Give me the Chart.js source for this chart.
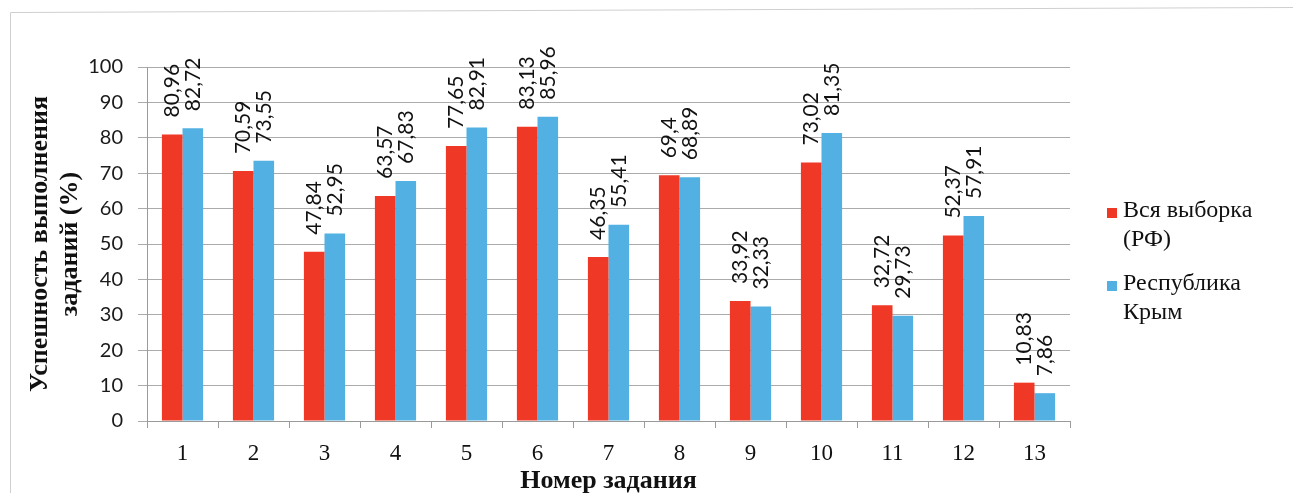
<!DOCTYPE html>
<html><head><meta charset="utf-8">
<script src="https://cdn.jsdelivr.net/npm/chart.js@4.4.0/dist/chart.umd.min.js"></script>
<style>html,body{margin:0;padding:0;background:#fff;}#wrap{width:1293px;height:493px;position:relative;}</style>
</head><body><div id="wrap"><canvas id="c" width="1293" height="493"></canvas></div>
<script>
const categories = ['1','2','3','4','5','6','7','8','9','10','11','12','13'];
const seriesRF = [80.96, 70.59, 47.84, 63.57, 77.65, 83.13, 46.35, 69.4, 33.92, 73.02, 32.72, 52.37, 10.83];
const seriesCrimea = [82.72, 73.55, 52.95, 67.83, 82.91, 85.96, 55.41, 68.89, 32.33, 81.35, 29.73, 57.91, 7.86];
const seriesNames = [['Вся выборка', '(РФ)'], ['Республика', 'Крым']];
const yTicks = [0, 10, 20, 30, 40, 50, 60, 70, 80, 90, 100];
const xTitle = 'Номер задания';
const yTitle = ['Успешность выполнения', 'заданий (%)'];

const RED = '#ef3825';
const BLUE = '#52b1e2';

const framePlugin = {
  id: 'frame',
  beforeDraw(chart) {
    const ctx = chart.ctx;
    ctx.save();
    ctx.strokeStyle = '#cfcfcf';
    ctx.lineWidth = 1;
    ctx.beginPath();
    ctx.moveTo(10.5, 493); ctx.lineTo(10.5, 12.5); ctx.lineTo(1293, 7.5);
    ctx.stroke();
    ctx.restore();
  }
};

const labelPlugin = {
  id: 'barLabels',
  afterDatasetsDraw(chart) {
    const ctx = chart.ctx;
    ctx.save();
    ctx.font = Chart.helpers.toFont({ family: 'Lato', size: 21 }).string;
    ctx.fillStyle = '#111';
    ctx.textAlign = 'left';
    ctx.textBaseline = 'middle';
    chart.data.datasets.forEach((ds, di) => {
      const meta = chart.getDatasetMeta(di);
      meta.data.forEach((bar, i) => {
        const txt = String(ds.data[i]).replace('.', ',');
        ctx.save();
        ctx.translate(bar.x, bar.y - 17);
        ctx.rotate(-Math.PI / 2);
        ctx.fillText(txt, 0, 0);
        ctx.restore();
      });
    });
    ctx.restore();
  }
};

const legendPlugin = {
  id: 'sideLegend',
  afterDraw(chart) {
    const ctx = chart.ctx;
    ctx.save();
    ctx.font = Chart.helpers.toFont({ family: 'Liberation Serif', size: 24 }).string;
    ctx.textAlign = 'left';
    ctx.textBaseline = 'alphabetic';
    const baseY = [217, 290];
    chart.data.datasets.forEach((ds, di) => {
      const lines = seriesNames[di];
      const y0 = baseY[di];
      ctx.fillStyle = ds.backgroundColor;
      ctx.fillRect(1107, y0 - 9, 10, 10);
      ctx.fillStyle = '#111';
      lines.forEach((ln, li) => ctx.fillText(ln, 1123, y0 + li * 29));
    });
    ctx.restore();
  }
};

new Chart(document.getElementById('c'), {
  type: 'bar',
  data: {
    labels: categories,
    datasets: [
      { label: seriesNames[0].join(' '), data: seriesRF, backgroundColor: RED, borderWidth: 0, categoryPercentage: 0.58, barPercentage: 1.0 },
      { label: seriesNames[1].join(' '), data: seriesCrimea, backgroundColor: BLUE, borderWidth: 0, categoryPercentage: 0.58, barPercentage: 1.0 }
    ]
  },
  options: {
    responsive: false,
    animation: false,
    devicePixelRatio: 1,
    layout: { padding: { top: 67, right: 223, left: 0, bottom: 0 } },
    plugins: { legend: { display: false }, tooltip: { enabled: false } },
    scales: {
      x: {
        grid: { display: true, drawOnChartArea: false, drawTicks: true, tickLength: 7, color: '#9a9a9a', offset: true },
        border: { display: true, color: '#9a9a9a' },
        ticks: { font: { family: 'Liberation Serif', size: 23 }, color: '#111', padding: 12, maxRotation: 0 },
        title: { display: true, text: xTitle, font: { family: 'Liberation Serif', size: 26, weight: 'bold', lineHeight: 0.9 }, color: '#111', padding: { top: 0, bottom: 0 } },
        afterFit(scale) { scale.height = 72; }
      },
      y: {
        min: 0, max: 100,
        afterBuildTicks(scale) { scale.ticks = yTicks.map(v => ({ value: v })); },
        grid: { color: '#ababab', lineWidth: 1, tickLength: 9 },
        border: { display: true, color: '#9a9a9a' },
        ticks: { font: { family: 'Lato', size: 20 }, color: '#1a1a1a', padding: 15 },
        title: { display: true, text: yTitle, font: { family: 'Liberation Serif', size: 26, weight: 'bold', lineHeight: 1.15 }, color: '#111', padding: { top: 25, bottom: 0 } },
        afterFit(scale) { scale.width = 147; }
      }
    }
  },
  plugins: [framePlugin, labelPlugin, legendPlugin]
});
</script>
</body></html>
